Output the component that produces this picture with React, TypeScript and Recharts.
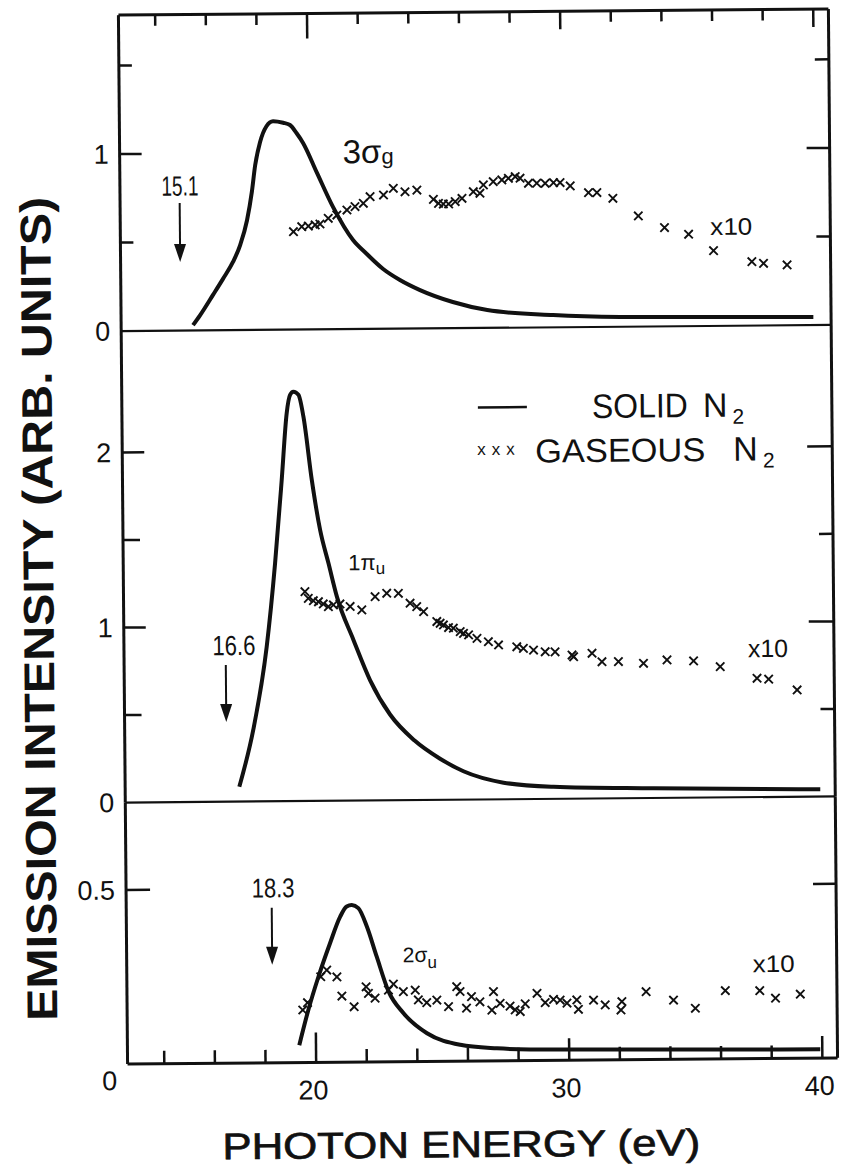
import React from "react";
import { ComposedChart, Line, Scatter, XAxis, YAxis } from "recharts";

// ---------- data (photon energy e in eV, intensity v in arb. units) ----------
const solidTop = [
  { e: 15.39, v: 0.03 }, { e: 15.67, v: 0.085 }, { e: 16.19, v: 0.2 }, { e: 16.59, v: 0.29 },
  { e: 16.99, v: 0.385 }, { e: 17.28, v: 0.48 }, { e: 17.56, v: 0.62 }, { e: 17.76, v: 0.78 },
  { e: 17.9, v: 0.93 }, { e: 18.1, v: 1.06 }, { e: 18.36, v: 1.15 }, { e: 18.62, v: 1.178 },
  { e: 19.02, v: 1.169 }, { e: 19.29, v: 1.156 }, { e: 19.55, v: 1.109 }, { e: 19.8, v: 1.054 },
  { e: 20.34, v: 0.884 }, { e: 20.96, v: 0.691 }, { e: 21.74, v: 0.503 }, { e: 22.27, v: 0.425 },
  { e: 22.92, v: 0.338 }, { e: 23.58, v: 0.275 }, { e: 24.37, v: 0.217 }, { e: 25.66, v: 0.148 },
  { e: 27.02, v: 0.101 }, { e: 29.62, v: 0.069 }, { e: 32.27, v: 0.055 }, { e: 39.9, v: 0.045 },
];
const gasTop = [
  { e: 19.39, v: 0.553 }, { e: 19.72, v: 0.581 }, { e: 19.98, v: 0.584 }, { e: 20.25, v: 0.59 },
  { e: 20.44, v: 0.595 }, { e: 20.77, v: 0.627 }, { e: 21.11, v: 0.645 }, { e: 21.51, v: 0.673 },
  { e: 21.83, v: 0.692 }, { e: 22.16, v: 0.71 }, { e: 22.43, v: 0.747 }, { e: 22.96, v: 0.756 },
  { e: 23.35, v: 0.793 }, { e: 23.81, v: 0.773 }, { e: 24.28, v: 0.782 }, { e: 24.93, v: 0.729 },
  { e: 25.13, v: 0.706 }, { e: 25.32, v: 0.702 }, { e: 25.53, v: 0.702 }, { e: 25.79, v: 0.715 },
  { e: 26.06, v: 0.733 }, { e: 26.51, v: 0.77 }, { e: 26.77, v: 0.761 }, { e: 26.91, v: 0.808 },
  { e: 27.3, v: 0.826 }, { e: 27.64, v: 0.835 }, { e: 27.9, v: 0.844 }, { e: 28.17, v: 0.853 },
  { e: 28.36, v: 0.844 }, { e: 28.69, v: 0.815 }, { e: 29.02, v: 0.815 }, { e: 29.35, v: 0.814 },
  { e: 29.68, v: 0.817 }, { e: 29.94, v: 0.817 }, { e: 30.34, v: 0.798 }, { e: 31.06, v: 0.759 },
  { e: 31.39, v: 0.759 }, { e: 32.02, v: 0.726 }, { e: 33.02, v: 0.625 }, { e: 34.05, v: 0.558 },
  { e: 35.0, v: 0.519 }, { e: 35.98, v: 0.425 }, { e: 37.49, v: 0.361 }, { e: 37.95, v: 0.351 },
  { e: 38.88, v: 0.341 },
];
const solidMid = [
  { e: 17.06, v: 0.085 }, { e: 17.63, v: 0.409 }, { e: 18.19, v: 0.883 }, { e: 18.55, v: 1.36 },
  { e: 18.84, v: 1.835 }, { e: 19.06, v: 2.217 }, { e: 19.2, v: 2.321 }, { e: 19.33, v: 2.339 },
  { e: 19.53, v: 2.321 }, { e: 19.72, v: 2.196 }, { e: 20.03, v: 1.833 }, { e: 20.34, v: 1.548 },
  { e: 20.66, v: 1.357 }, { e: 20.98, v: 1.166 }, { e: 21.62, v: 0.918 }, { e: 22.26, v: 0.688 },
  { e: 23.04, v: 0.49 }, { e: 24.0, v: 0.34 }, { e: 25.0, v: 0.235 }, { e: 25.92, v: 0.162 },
  { e: 27.5, v: 0.095 }, { e: 29.47, v: 0.069 }, { e: 33.43, v: 0.055 }, { e: 40.01, v: 0.041 },
];
const gasMid = [
  { e: 19.72, v: 1.196 }, { e: 19.85, v: 1.158 }, { e: 20.05, v: 1.144 }, { e: 20.25, v: 1.138 },
  { e: 20.44, v: 1.125 }, { e: 20.64, v: 1.109 }, { e: 20.84, v: 1.119 }, { e: 21.1, v: 1.124 },
  { e: 21.5, v: 1.109 }, { e: 21.96, v: 1.089 }, { e: 22.49, v: 1.164 }, { e: 22.95, v: 1.183 },
  { e: 23.41, v: 1.182 }, { e: 23.87, v: 1.125 }, { e: 24.13, v: 1.105 }, { e: 24.4, v: 1.076 },
  { e: 24.92, v: 1.019 }, { e: 25.05, v: 1.009 }, { e: 25.18, v: 0.999 }, { e: 25.38, v: 0.984 },
  { e: 25.57, v: 0.98 }, { e: 25.84, v: 0.96 }, { e: 25.97, v: 0.95 }, { e: 26.17, v: 0.941 },
  { e: 26.5, v: 0.921 }, { e: 26.95, v: 0.901 }, { e: 27.35, v: 0.882 }, { e: 28.07, v: 0.871 },
  { e: 28.33, v: 0.861 }, { e: 28.73, v: 0.851 }, { e: 29.19, v: 0.841 }, { e: 29.58, v: 0.84 },
  { e: 30.25, v: 0.821 }, { e: 30.31, v: 0.811 }, { e: 31.04, v: 0.83 }, { e: 31.43, v: 0.781 },
  { e: 32.08, v: 0.781 }, { e: 33.07, v: 0.77 }, { e: 34.0, v: 0.788 }, { e: 35.05, v: 0.781 },
  { e: 36.1, v: 0.747 }, { e: 37.55, v: 0.679 }, { e: 38.01, v: 0.673 }, { e: 39.13, v: 0.61 },
];
const solidBot = [
  { e: 19.34, v: 0.05 }, { e: 19.71, v: 0.151 }, { e: 20.12, v: 0.246 }, { e: 20.59, v: 0.342 },
  { e: 21.0, v: 0.418 }, { e: 21.26, v: 0.447 }, { e: 21.46, v: 0.451 }, { e: 21.72, v: 0.442 },
  { e: 22.05, v: 0.389 }, { e: 22.43, v: 0.302 }, { e: 22.88, v: 0.203 }, { e: 23.47, v: 0.139 },
  { e: 24.39, v: 0.081 }, { e: 25.7, v: 0.047 }, { e: 27.15, v: 0.036 }, { e: 28.46, v: 0.032 },
  { e: 39.92, v: 0.025 },
];
const gasBot = [
  { e: 19.49, v: 0.151 }, { e: 19.68, v: 0.172 }, { e: 20.21, v: 0.246 }, { e: 20.45, v: 0.265 },
  { e: 20.85, v: 0.245 }, { e: 21.04, v: 0.19 }, { e: 21.52, v: 0.159 }, { e: 22.0, v: 0.216 },
  { e: 22.09, v: 0.197 }, { e: 22.35, v: 0.183 }, { e: 22.88, v: 0.206 }, { e: 23.08, v: 0.223 },
  { e: 23.47, v: 0.201 }, { e: 23.94, v: 0.205 }, { e: 24.06, v: 0.177 }, { e: 24.39, v: 0.169 },
  { e: 24.79, v: 0.176 }, { e: 25.25, v: 0.157 }, { e: 25.58, v: 0.214 }, { e: 25.71, v: 0.2 },
  { e: 25.96, v: 0.152 }, { e: 26.16, v: 0.185 }, { e: 26.49, v: 0.17 }, { e: 26.96, v: 0.146 },
  { e: 27.03, v: 0.199 }, { e: 27.29, v: 0.165 }, { e: 27.68, v: 0.157 }, { e: 27.88, v: 0.146 },
  { e: 28.08, v: 0.141 }, { e: 28.28, v: 0.163 }, { e: 28.75, v: 0.193 }, { e: 29.07, v: 0.166 },
  { e: 29.4, v: 0.175 }, { e: 29.66, v: 0.173 }, { e: 29.93, v: 0.164 }, { e: 30.32, v: 0.173 },
  { e: 30.38, v: 0.146 }, { e: 30.98, v: 0.172 }, { e: 31.44, v: 0.158 }, { e: 32.06, v: 0.143 },
  { e: 32.1, v: 0.167 }, { e: 33.06, v: 0.195 }, { e: 34.14, v: 0.17 }, { e: 35.0, v: 0.146 },
  { e: 36.19, v: 0.196 }, { e: 37.55, v: 0.195 }, { e: 38.17, v: 0.173 }, { e: 39.15, v: 0.184 },
];

// ---------- axes ----------
const xDomain = [12.55, 40.6];
const xTicks = [14, 16, 18, 20, 22, 24, 26, 28, 30, 32, 34, 36, 38, 40];
const xLabelTicks = [20, 30, 40];
const topYDomain = [0, 1.785];
const midYDomain = [0, 2.694];
const botYDomain = [0, 0.751];
const topYTicks = [0, 0.5, 1, 1.5];
const midYTicks = [0, 0.5, 1, 1.5, 2];
const botYTicks = [0.5];
const topYLabels = [0, 1];
const midYLabels = [0, 1, 2];
const botYLabels = [0.5];

const FONT = "'Liberation Sans', Arial, Helvetica, sans-serif";
const INK = "#111";
const W = 843;
const H = 1168;

const TopXTick = (p: any) => {
  const v = p.payload.value;
  const len = v === 20 ? 25 : v === 30 || v === 40 ? 18 : 11;
  return <line x1={p.x} x2={p.x} y1={p.y} y2={p.y + len} stroke={INK} strokeWidth={2.5} />;
};

const BottomXTick = (p: any) => {
  const v = p.payload.value;
  const len = v === 20 ? 30 : v === 30 || v === 40 ? 22 : 13;
  return (
    <g>
      <line x1={p.x} x2={p.x} y1={p.y} y2={p.y - len} stroke={INK} strokeWidth={2.5} />
      {xLabelTicks.includes(v) && (
        <text x={p.x - 3} y={p.y + 37} textAnchor="middle" fontSize={27} fontFamily={FONT} fill={INK}>
          {v}
        </text>
      )}
    </g>
  );
};

const makeLeftTick = (labels: number[], shortLen: number, longLen: number, longVals: number[]) => (p: any) => {
  const v = p.payload.value;
  const len = v === 0 ? 0 : longVals.includes(v) ? longLen : shortLen;
  return (
    <g>
      {len > 0 && <line x1={p.x} x2={p.x + len} y1={p.y} y2={p.y} stroke={INK} strokeWidth={2.5} />}
      {labels.includes(v) && (
        <text x={p.x - 11} y={p.y + 9.5} textAnchor="end" fontSize={27} fontFamily={FONT} fill={INK}>
          {String(v)}
        </text>
      )}
    </g>
  );
};

const makeRightTick = (shortLen: number, longLen: number, longVals: number[]) => (p: any) => {
  const v = p.payload.value;
  const len = v === 0 ? 0 : longVals.includes(v) ? longLen : shortLen;
  return len > 0 ? <line x1={p.x} x2={p.x - len} y1={p.y} y2={p.y} stroke={INK} strokeWidth={2.5} /> : <g />;
};

const Cross = (p: any) => {
  const { cx, cy } = p;
  if (cx == null || cy == null) return <g />;
  const s = 4.2;
  return (
    <path
      d={`M${cx - s},${cy - s}L${cx + s},${cy + s}M${cx - s},${cy + s}L${cx + s},${cy - s}`}
      stroke={INK}
      strokeWidth={1.9}
      fill="none"
    />
  );
};

type PanelProps = {
  top: number;
  bottom: number;
  yDomain: number[];
  yTicks: number[];
  leftTick: any;
  rightTick: any;
  solid: { e: number; v: number }[];
  gas: { e: number; v: number }[];
  showTopAxis?: boolean;
  isBottom?: boolean;
};

const Panel = ({ top, bottom, yDomain, yTicks, leftTick, rightTick, solid, gas, showTopAxis, isBottom }: PanelProps) => {
  const marginTop = showTopAxis ? top - 1 : top;
  return (
    <div style={{ position: "absolute", left: 0, top: 0 }}>
      <ComposedChart
        width={W}
        height={H}
        margin={{ top: marginTop, right: 9, bottom: H - bottom - 1, left: 122 }}
      >
        {showTopAxis && (
          <XAxis
            xAxisId="t"
            orientation="top"
            type="number"
            dataKey="e"
            domain={xDomain}
            allowDataOverflow
            ticks={xTicks}
            interval={0}
            height={1}
            tickSize={0}
            tickMargin={0}
            tickLine={false}
            axisLine={{ stroke: INK, strokeWidth: 3 }}
            tick={TopXTick}
          />
        )}
        <XAxis
          xAxisId="b"
          orientation="bottom"
          type="number"
          dataKey="e"
          domain={xDomain}
          allowDataOverflow
          ticks={isBottom ? xTicks : []}
          interval={0}
          height={1}
          tickSize={0}
          tickMargin={0}
          tickLine={false}
          axisLine={{ stroke: INK, strokeWidth: isBottom ? 3 : 2.2 }}
          tick={isBottom ? BottomXTick : false}
        />
        <YAxis
          yAxisId="l"
          orientation="left"
          type="number"
          dataKey="v"
          domain={yDomain}
          allowDataOverflow
          ticks={yTicks}
          interval={0}
          width={1}
          tickSize={0}
          tickMargin={0}
          tickLine={false}
          axisLine={{ stroke: INK, strokeWidth: 3 }}
          tick={leftTick}
        />
        <YAxis
          yAxisId="r"
          orientation="right"
          type="number"
          domain={yDomain}
          allowDataOverflow
          ticks={yTicks}
          interval={0}
          width={1}
          tickSize={0}
          tickMargin={0}
          tickLine={false}
          axisLine={{ stroke: INK, strokeWidth: 3 }}
          tick={rightTick}
        />
        <Line
          xAxisId="b"
          yAxisId="l"
          data={solid}
          dataKey="v"
          type="monotone"
          stroke={INK}
          strokeWidth={4}
          dot={false}
          activeDot={false}
          isAnimationActive={false}
        />
        <Scatter
          xAxisId="b"
          yAxisId="l"
          data={gas}
          dataKey="v"
          shape={Cross}
          isAnimationActive={false}
        />
      </ComposedChart>
    </div>
  );
};

const Arrow = ({ x, y1, y2 }: { x: number; y1: number; y2: number }) => (
  <g>
    <line x1={x} x2={x} y1={y1} y2={y2 - 15} stroke={INK} strokeWidth={2} />
    <polygon points={`${x - 6},${y2 - 18} ${x + 6},${y2 - 18} ${x},${y2}`} fill={INK} />
  </g>
);

export default function App() {
  return (
    <div
      style={{
        position: "absolute",
        left: 0,
        top: 0,
        width: W,
        height: H,
        background: "#fff",
        transform: "rotate(-0.5deg)",
        transformOrigin: "478px 538px",
      }}
    >
      <Panel
        top={12}
        bottom={328}
        yDomain={topYDomain}
        yTicks={topYTicks}
        leftTick={makeLeftTick(topYLabels, 13, 22, [1])}
        rightTick={makeRightTick(14, 23, [1])}
        solid={solidTop}
        gas={gasTop}
        showTopAxis
      />
      <Panel
        top={328}
        bottom={799.5}
        yDomain={midYDomain}
        yTicks={midYTicks}
        leftTick={makeLeftTick(midYLabels, 17, 22, [1, 2])}
        rightTick={makeRightTick(14, 25, [1, 2])}
        solid={solidMid}
        gas={gasMid}
      />
      <Panel
        top={799.5}
        bottom={1061}
        yDomain={botYDomain}
        yTicks={botYTicks}
        leftTick={makeLeftTick(botYLabels, 24, 24, [0.5])}
        rightTick={makeRightTick(23, 23, [0.5])}
        solid={solidBot}
        gas={gasBot}
        isBottom
      />
      <svg width={W} height={H} style={{ position: "absolute", left: 0, top: 0 }} fontFamily={FONT}>
        <text
          transform="translate(53,605) rotate(-90)"
          textAnchor="middle"
          fontSize={43}
          fontWeight={700}
          textLength={824}
          lengthAdjust="spacingAndGlyphs"
          fill={INK}
        >
          EMISSION INTENSITY (ARB. UNITS)
        </text>
        <text
          x={456}
          y={1157}
          textAnchor="middle"
          fontSize={37}
          textLength={478}
          lengthAdjust="spacingAndGlyphs"
          fill={INK}
          stroke={INK}
          strokeWidth={0.7}
        >
          PHOTON ENERGY (eV)
        </text>
        <text x={105} y={1087} textAnchor="middle" fontSize={27} fill={INK}>0</text>

        <Arrow x={182.6} y1={200.4} y2={259.4} />
        <text x={183} y={193} textAnchor="middle" fontSize={28} textLength={37} lengthAdjust="spacingAndGlyphs" fill={INK}>15.1</text>
        <Arrow x={224.7} y1={662.8} y2={719.8} />
        <text x={233} y={653} textAnchor="middle" fontSize={28} textLength={43} lengthAdjust="spacingAndGlyphs" fill={INK}>16.6</text>
        <Arrow x={268.5} y1={906} y2={963} />
        <text x={270} y={895.5} textAnchor="middle" fontSize={27} textLength={43} lengthAdjust="spacingAndGlyphs" fill={INK}>18.3</text>

        <text x={346} y={162} fontSize={33} fill={INK}>
          3σ<tspan fontSize={22} dy={1}>g</tspan>
        </text>
        <text x={713} y={237} fontSize={24} textLength={42} lengthAdjust="spacingAndGlyphs" fill={INK}>x10</text>

        <text x={348} y={569} fontSize={22} fill={INK}>
          1π<tspan fontSize={17} dy={4}>u</tspan>
        </text>
        <text x={747} y={659.5} fontSize={25} textLength={40} lengthAdjust="spacingAndGlyphs" fill={INK}>x10</text>

        <text x={399} y={961.5} fontSize={21} fill={INK}>
          2σ<tspan fontSize={17} dy={6}>u</tspan>
        </text>
        <text x={749} y={974.6} fontSize={24} textLength={42} lengthAdjust="spacingAndGlyphs" fill={INK}>x10</text>

        <line x1={479} x2={528} y1={407.5} y2={407.5} stroke={INK} strokeWidth={2.5} />
        <text x={593} y={419} fontSize={34} fill={INK}>
          <tspan textLength={96} lengthAdjust="spacingAndGlyphs">SOLID</tspan>
          <tspan x={704}>N</tspan>
          <tspan fontSize={21} dx={5} dy={7}>2</tspan>
        </text>
        <text x={478} y={455} fontSize={17} letterSpacing={6} fill={INK}>xxx</text>
        <text x={536} y={463} fontSize={33} fill={INK}>
          <tspan textLength={170} lengthAdjust="spacingAndGlyphs">GASEOUS</tspan>
          <tspan x={734} fontSize={34}>N</tspan>
          <tspan fontSize={21} dx={5} dy={7}>2</tspan>
        </text>
      </svg>
    </div>
  );
}
